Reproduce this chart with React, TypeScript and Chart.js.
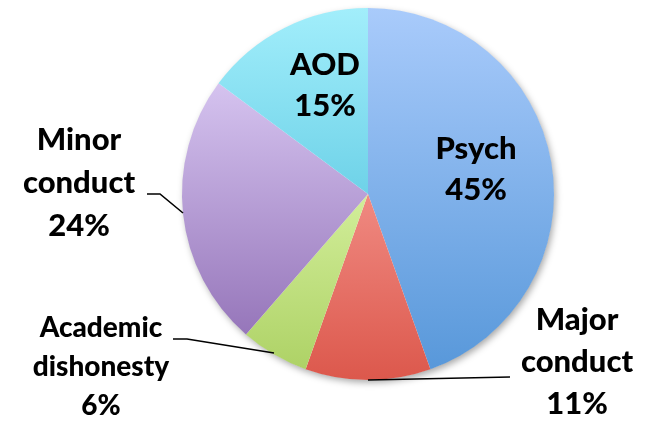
import React, { useEffect, useRef } from "react";
import { Chart, registerables } from "chart.js";

Chart.register(...registerables);

const categories = ["Psych", "Major conduct", "Academic dishonesty", "Minor conduct", "AOD"];
const values = [45, 11, 6, 24, 15];
const percentLabels = ["45%", "11%", "6%", "24%", "15%"];

// gradient top / bottom colours per slice
const topColors = ["#a9cbfb", "#f08a82", "#d2ee9a", "#d5c3ef", "#a2eefb"];
const bottomColors = ["#5898da", "#dc584c", "#aed266", "#9676ba", "#6ed2e8"];

// label layout (text lines, centre x, first baseline, line step, font size) in pixels
const labelLayout = [
  { lines: ["Psych", "45%"], x: 476, y: 159, step: 41, size: 31 },
  { lines: ["Major", "conduct", "11%"], x: 577, y: 330, step: 42, size: 31 },
  { lines: ["Academic", "dishonesty", "6%"], x: 101, y: 337, step: 39, size: 28 },
  { lines: ["Minor", "conduct", "24%"], x: 79, y: 150, step: 43, size: 31 },
  { lines: ["AOD", "15%"], x: 325, y: 75, step: 41, size: 31 },
];

const leaderLines: (number[][] | null)[] = [
  null,
  [[368, 380], [510, 377]],
  [[173, 339], [187, 339], [274, 353]],
  [[147, 194], [160, 194], [183, 213]],
  null,
];

function sliceYRange(cx: number, cy: number, r: number, a0: number, a1: number) {
  let minY = cy, maxY = cy;
  const pts = [a0, a1];
  for (let k = -2; k <= 4; k++) {
    const a = -Math.PI / 2 + k * Math.PI;
    if (a > a0 && a < a1) pts.push(a);
    const b = Math.PI / 2 + k * Math.PI;
    if (b > a0 && b < a1) pts.push(b);
  }
  for (const a of pts) {
    const y = cy + r * Math.sin(a);
    minY = Math.min(minY, y);
    maxY = Math.max(maxY, y);
  }
  return [minY, maxY];
}

const shadowPlugin = {
  id: "pieShadow",
  beforeDatasetsDraw(chart: any) {
    const meta = chart.getDatasetMeta(0);
    const arc = meta.data[0];
    if (!arc) return;
    const { x, y, outerRadius } = arc.getProps(["x", "y", "outerRadius"], true);
    const ctx = chart.ctx;
    ctx.save();
    ctx.shadowColor = "rgba(0,0,0,0.35)";
    ctx.shadowBlur = 7;
    ctx.shadowOffsetX = 2;
    ctx.shadowOffsetY = 3;
    ctx.fillStyle = "#ffffff";
    ctx.beginPath();
    ctx.arc(x, y, outerRadius - 0.5, 0, Math.PI * 2);
    ctx.fill();
    ctx.restore();
  },
};

const labelPlugin = {
  id: "pieLabels",
  afterDatasetsDraw(chart: any) {
    const ctx = chart.ctx;
    ctx.save();
    ctx.strokeStyle = "#000000";
    ctx.lineWidth = 1.6;
    leaderLines.forEach((pts) => {
      if (!pts) return;
      ctx.beginPath();
      pts.forEach((p, i) => (i === 0 ? ctx.moveTo(p[0], p[1]) : ctx.lineTo(p[0], p[1])));
      ctx.stroke();
    });
    ctx.fillStyle = "#000000";
    ctx.textAlign = "center";
    ctx.textBaseline = "alphabetic";
    labelLayout.forEach((l, i) => {
      ctx.font = `900 ${l.size}px Lato, "Open Sans", sans-serif`;
      const lines = [...l.lines.slice(0, -1), percentLabels[i]];
      lines.forEach((t, j) => ctx.fillText(t, l.x, l.y + j * l.step));
    });
    ctx.restore();
  },
};

export default function App() {
  const ref = useRef<HTMLCanvasElement>(null);
  useEffect(() => {
    if (!ref.current) return;
    const total = values.reduce((a, b) => a + b, 0);
    const chart = new Chart(ref.current, {
      type: "pie",
      data: {
        labels: categories,
        datasets: [
          {
            data: values,
            borderWidth: 0,
            backgroundColor: (c: any) => {
              const chartRef = c.chart;
              const area = chartRef.chartArea;
              const i = c.dataIndex;
              if (!area || i === undefined) return topColors[i ?? 0];
              const cx = (area.left + area.right) / 2;
              const cy = (area.top + area.bottom) / 2;
              const r = Math.min(area.right - area.left, area.bottom - area.top) / 2;
              let cum = 0;
              for (let k = 0; k < i; k++) cum += values[k];
              const a0 = -Math.PI / 2 + (cum / total) * Math.PI * 2;
              const a1 = -Math.PI / 2 + ((cum + values[i]) / total) * Math.PI * 2;
              const [y0, y1] = sliceYRange(cx, cy, r, a0, a1);
              const g = chartRef.ctx.createLinearGradient(0, y0, 0, y1);
              g.addColorStop(0, topColors[i]);
              g.addColorStop(1, bottomColors[i]);
              return g;
            },
          },
        ],
      },
      options: {
        animation: false,
        responsive: true,
        maintainAspectRatio: false,
        layout: { padding: { left: 182, right: 101, top: 8, bottom: 44 } },
        plugins: {
          legend: { display: false },
          tooltip: { enabled: false },
        },
      },
      plugins: [shadowPlugin, labelPlugin],
    });
    return () => chart.destroy();
  }, []);
  return (
    <div style={{ position: "fixed", left: 0, top: 0, width: 655, height: 424, background: "#ffffff" }}>
      <canvas ref={ref} />
    </div>
  );
}
